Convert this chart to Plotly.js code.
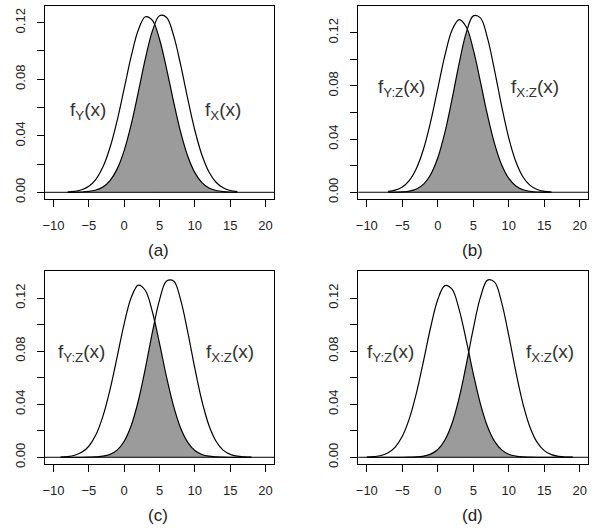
<!DOCTYPE html>
<html><head><meta charset="utf-8">
<script src="https://cdn.plot.ly/plotly-3.0.1.min.js"></script>
<style>html,body{margin:0;padding:0;background:#fff}#chart{width:601px;height:530px}</style>
</head><body><div id="chart"></div>
<script>
// Panel (a)
const xA = [-8,-7,-6,-5,-4,-3,-2,-1,0,1,2,3,4,5,6,7,8,9,10,11,12,13,14,15,16];
const fY_a = [0.0002,0.0007,0.0018,0.0043,0.0092,0.0180,0.0317,0.0506,0.0733,0.0963,0.1148,0.1242,0.1217,0.1083,0.0874,0.0639,0.0424,0.0255,0.0139,0.0069,0.0031,0.0013,0.0005,0.0002,0.0001];
const fX_a = [0.0000,0.0001,0.0002,0.0006,0.0016,0.0038,0.0083,0.0164,0.0295,0.0480,0.0708,0.0945,0.1142,0.1249,0.1237,0.1108,0.0899,0.0661,0.0439,0.0264,0.0144,0.0071,0.0032,0.0013,0.0005];
const cross_a = [4.33, 0.1186];
// Panel (b)
const xB = [-7,-6,-5,-4,-3,-2,-1,0,1,2,3,4,5,6,7,8,9,10,11,12,13,14,15,16];
const fY_b = [0.0006,0.0016,0.0040,0.0090,0.0181,0.0327,0.0533,0.0781,0.1029,0.1219,0.1299,0.1245,0.1073,0.0832,0.0580,0.0364,0.0205,0.0104,0.0047,0.0019,0.0007,0.0002,0.0001,0.0000];
const fX_b = [0.0000,0.0001,0.0003,0.0009,0.0025,0.0061,0.0134,0.0259,0.0450,0.0698,0.0968,0.1199,0.1327,0.1312,0.1159,0.0915,0.0646,0.0407,0.0229,0.0115,0.0052,0.0021,0.0007,0.0002];
const cross_b = [4.15, 0.1226];
// Panel (c)
const xC = [-9,-8,-7,-6,-5,-4,-3,-2,-1,0,1,2,3,4,5,6,7,8,9,10,11,12,13,14,15,16,17,18];
const fY_c = [0.0002,0.0005,0.0015,0.0037,0.0083,0.0169,0.0310,0.0510,0.0755,0.1006,0.1204,0.1297,0.1257,0.1095,0.0858,0.0604,0.0383,0.0218,0.0112,0.0051,0.0021,0.0008,0.0003,0.0001,0.0000,0.0000,0.0000,0.0000];
const fX_c = [0.0000,0.0000,0.0000,0.0000,0.0001,0.0003,0.0008,0.0022,0.0054,0.0121,0.0240,0.0424,0.0670,0.0943,0.1185,0.1328,0.1328,0.1185,0.0943,0.0670,0.0424,0.0240,0.0121,0.0054,0.0022,0.0008,0.0003,0.0001];
const cross_c = [4.31, 0.1026];
// Panel (d)
const xD = [-10,-9,-8,-7,-6,-5,-4,-3,-2,-1,0,1,2,3,4,5,6,7,8,9,10,11,12,13,14,15,16,17,18,19];
const fY_d = [0.0001,0.0005,0.0013,0.0034,0.0077,0.0158,0.0293,0.0487,0.0729,0.0982,0.1189,0.1294,0.1267,0.1115,0.0883,0.0629,0.0403,0.0232,0.0120,0.0056,0.0023,0.0009,0.0003,0.0001,0.0000,0.0000,0.0000,0.0000,0.0000,0.0000];
const fX_d = [0.0000,0.0000,0.0000,0.0000,0.0000,0.0000,0.0001,0.0003,0.0009,0.0024,0.0059,0.0130,0.0255,0.0446,0.0696,0.0970,0.1205,0.1335,0.1320,0.1164,0.0916,0.0643,0.0403,0.0225,0.0112,0.0050,0.0020,0.0007,0.0002,0.0001];
const cross_d = [4.36, 0.0793];

const panelTags = ['(a)','(b)','(c)','(d)'];
const leftLabels = ['f<sub>Y</sub>(x)','f<sub>Y:Z</sub>(x)','f<sub>Y:Z</sub>(x)','f<sub>Y:Z</sub>(x)'];
const rightLabels = ['f<sub>X</sub>(x)','f<sub>X:Z</sub>(x)','f<sub>X:Z</sub>(x)','f<sub>X:Z</sub>(x)'];
const xTicks = [-10,-5,0,5,10,15,20];
const yTicks = [0,0.02,0.04,0.06,0.08,0.10,0.12];
const yTickText = ['0.00','','0.04','','0.08','','0.12'];

const panels = [
  {x:xA, fy:fY_a, fx:fX_a, cr:cross_a},
  {x:xB, fy:fY_b, fx:fX_b, cr:cross_b},
  {x:xC, fy:fY_c, fx:fX_c, cr:cross_c},
  {x:xD, fy:fY_d, fx:fX_d, cr:cross_d}
];

// layout geometry (pixels of 601x530 page)
const W = 601, H = 530;
const boxes = [
  {l:45, r:274, t:6, b:199.3, yr:[-0.00495,0.1318]},
  {l:358.3, r:588.3, t:6, b:199.3, yr:[-0.0053,0.1401]},
  {l:45, r:274, t:271, b:464.3, yr:[-0.0053,0.1404]},
  {l:358.3, r:588.3, t:271, b:464.3, yr:[-0.0053,0.1404]}
];
const tagPos = [[158.4,250.5],[472,250.5],[158.4,515.5],[472,515.5]];
const leftPos = [[88,110.5],[401,88],[81.5,353.3],[390,353.3]];
const rightPos = [[222.5,110.5],[535,88],[230,353.3],[550,353.3]];

const traces = [];
const layout = {
  width: W, height: H, margin:{l:0,r:0,t:0,b:0},
  paper_bgcolor:'#fff', plot_bgcolor:'#fff', showlegend:false,
  font:{family:'Liberation Sans, Arial, sans-serif', color:'#222', size:13},
  annotations:[], shapes:[]
};
const GRAY = '#9b9b9b';

panels.forEach((p, i) => {
  const n = i === 0 ? '' : String(i+1);
  const xa = 'x'+n, ya = 'y'+n;
  const cx = p.cr[0], cy = p.cr[1];
  const lx = [], ly = [], rx = [cx], ry = [cy];
  p.x.forEach((v, k) => {
    if (v < cx) { lx.push(v); ly.push(p.fx[k]); }
    else { rx.push(v); ry.push(p.fy[k]); }
  });
  lx.push(cx); ly.push(cy);
  [[lx,ly],[rx,ry]].forEach(([xx,yy]) => traces.push({
    x:xx, y:yy, xaxis:xa, yaxis:ya, type:'scatter', mode:'lines',
    line:{width:0, shape:'spline', smoothing:1, color:GRAY},
    fill:'tozeroy', fillcolor:GRAY, hoverinfo:'skip'
  }));
  [p.fy, p.fx].forEach(yy => traces.push({
    x:p.x, y:yy, xaxis:xa, yaxis:ya, type:'scatter', mode:'lines',
    line:{width:1.2, shape:'spline', smoothing:1, color:'#000'}, hoverinfo:'skip'
  }));
  const b = boxes[i];
  layout['xaxis'+n] = {
    domain:[b.l/W, b.r/W], range:[-11.2, 21.2], anchor:ya,
    tickvals:xTicks, ticks:'outside', ticklen:7, tickwidth:1, tickcolor:'#000',
    showline:true, mirror:true, linecolor:'#000', linewidth:1,
    showgrid:false, zeroline:false, ticklabelstandoff:7,
    tickfont:{size:13, color:'#222'}
  };
  layout['yaxis'+n] = {
    domain:[1-b.b/H, 1-b.t/H], range:b.yr, anchor:xa,
    tickvals:yTicks, ticktext:yTickText, tickangle:-90,
    ticks:'outside', ticklen:7, tickwidth:1, tickcolor:'#000',
    showline:true, mirror:true, linecolor:'#000', linewidth:1,
    showgrid:false, zeroline:false, ticklabelstandoff:7,
    tickfont:{size:13, color:'#222'}
  };
  // gray backing under the joint of the two fill halves (hides the seam)
  layout.shapes.push({type:'line', xref:xa, yref:ya, x0:cx, x1:cx, y0:0, y1:cy*0.97,
    line:{color:GRAY, width:2}, layer:'below'});
  layout.shapes.push({type:'line', xref:xa+' domain', yref:ya, x0:0, x1:1, y0:0, y1:0,
    line:{color:'#000', width:1}, layer:'above'});
  layout.annotations.push({xref:'paper', yref:'paper', x:tagPos[i][0]/W, y:1-tagPos[i][1]/H,
    xanchor:'center', yanchor:'middle', showarrow:false, text:panelTags[i],
    font:{size:17, color:'#222'}});
  layout.annotations.push({xref:'paper', yref:'paper', x:leftPos[i][0]/W, y:1-leftPos[i][1]/H,
    xanchor:'center', yanchor:'middle', showarrow:false, text:leftLabels[i],
    font:{size:19, color:'#333'}});
  layout.annotations.push({xref:'paper', yref:'paper', x:rightPos[i][0]/W, y:1-rightPos[i][1]/H,
    xanchor:'center', yanchor:'middle', showarrow:false, text:rightLabels[i],
    font:{size:19, color:'#333'}});
});

Plotly.newPlot('chart', traces, layout, {staticPlot:true});
</script></body></html>
